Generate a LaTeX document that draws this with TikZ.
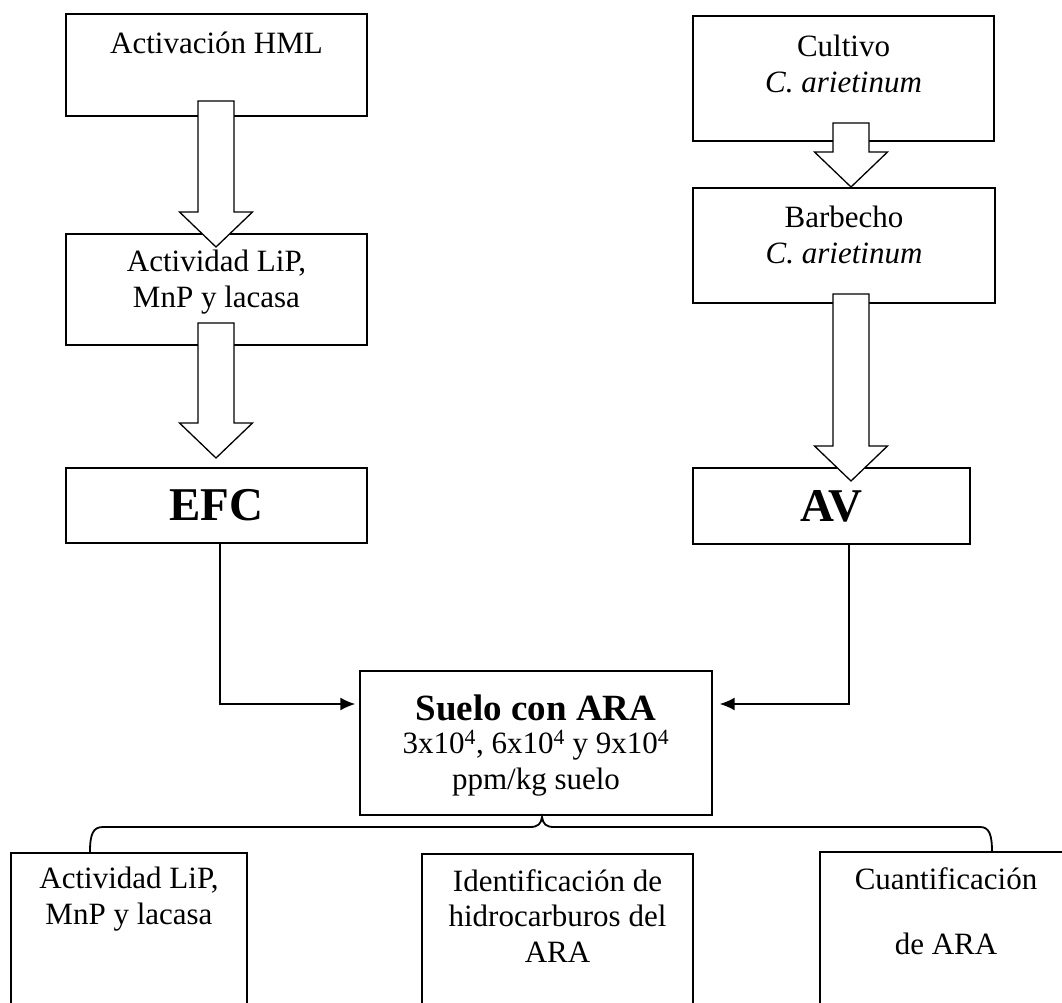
\documentclass[tikz,border=0pt]{standalone}
\usepackage{fontspec}
\setmainfont{Liberation Serif}
\usetikzlibrary{arrows.meta}
\usetikzlibrary{positioning}

\tikzset{
  box/.style={draw, rectangle, line width=1.3pt, inner sep=0pt},
  bigbox/.style={draw, rectangle, line width=2.3pt, inner sep=0pt,
    font=\fontsize{47}{52}\selectfont\bfseries},
  txt/.style={align=center, inner sep=0pt, anchor=base,
    font=\fontsize{31}{35.5}\selectfont},
  link/.style={line width=1.8pt, -{Latex[length=15pt,width=13pt]}},
  hollow/.style={line width=1.3pt, fill=white, line join=miter},
}

% block arrow: x, top, tip
\newcommand{\blockarrow}[3]{%
  \filldraw[hollow] (#1-18,#2) -- (#1+18,#2) -- (#1+18,#3-35) -- (#1+36.5,#3-35)
    -- (#1,#3) -- (#1-36.5,#3-35) -- (#1-18,#3-35) -- cycle;}

\begin{document}
\begin{tikzpicture}[x=1pt, y=-1pt]
          \useasboundingbox (0,0) rectangle (1062,1003);

          % left column (text nodes sit on their last baseline)
          \node[box, minimum width=301pt, minimum height=102pt] (hml) at (216.5,65) {};
          \node[box, minimum width=301pt, minimum height=111pt] (act) at (216.5,289.5) {};
          \node[bigbox, minimum width=301pt, minimum height=75pt] (efc) at (216.5,505.5) {EFC};
          \node[txt] (hmltxt) at ([yshift=-40pt]hml.north) {Activación HML};
          \node[txt] (acttxt) at ([yshift=-74pt]act.north) {Actividad LiP,\\MnP y lacasa};

          % right column
          \node[box, minimum width=301pt, minimum height=125pt] (cult) at (843.5,78.5) {};
          \node[box, minimum width=302pt, minimum height=115pt] (barb) at (844,245.5) {};
          \node[bigbox, minimum width=277pt, minimum height=76pt] (av) at (831.5,506) {AV};
          \node[txt] (culttxt) at ([yshift=-77pt]cult.north) {Cultivo\\\textit{C. arietinum}};
          \node[txt] (barbtxt) at ([yshift=-76pt]barb.north) {Barbecho\\\textit{C. arietinum}};

          % block arrows
          \blockarrow{216}{101}{247}
          \blockarrow{216}{323}{458}
          \blockarrow{851}{123}{187}
          \blockarrow{851}{294}{481}

          % soil
          \node[box, minimum width=352pt, minimum height=144pt] (suelo) at (536,743) {};
          \node[txt] (suelotxt) at ([yshift=-119pt]suelo.north)
            {{\fontsize{37}{40}\selectfont\bfseries Suelo con ARA}\\[-2pt]
             3x10\textsuperscript{4}, 6x10\textsuperscript{4} y 9x10\textsuperscript{4}\\
             ppm/kg suelo};

          \draw[link, shorten >=4pt] ([xshift=3.5pt]efc.south) |- ([yshift=39pt]suelo.west);
          \draw[link, shorten >=7pt] ([xshift=17.5pt]av.south) |- ([yshift=39pt]suelo.east);

          % brace
          \draw[line width=1.8pt] (90,852) .. controls (90,834) and (93,827) .. (103,827)
            -- (530,827) .. controls (538,827) and (541,824) .. (542,817)
            .. controls (543,824) and (546,827) .. (554,827)
            -- (980,827) .. controls (989,827) and (992,834) .. (992,852);

          % results
          \node[box, minimum width=236pt, minimum height=170pt] (res1) at (129,938) {};
          \node[box, minimum width=271pt, minimum height=170pt] (res2) at (557.5,939) {};
          \node[box, minimum width=252pt, minimum height=170pt] (res3) at (946,937) {};
          \node[txt] (res1txt) at ([yshift=-72pt]res1.north) {Actividad LiP,\\MnP y lacasa};
          \node[txt] (res2txt) at ([yshift=-109pt]res2.north) {Identificación de\\hidrocarburos del\\ARA};
          \node[txt] (res3txt) at ([yshift=-103pt]res3.north) {Cuantificación\\[29pt]de ARA};

        \end{tikzpicture}
\end{document}
